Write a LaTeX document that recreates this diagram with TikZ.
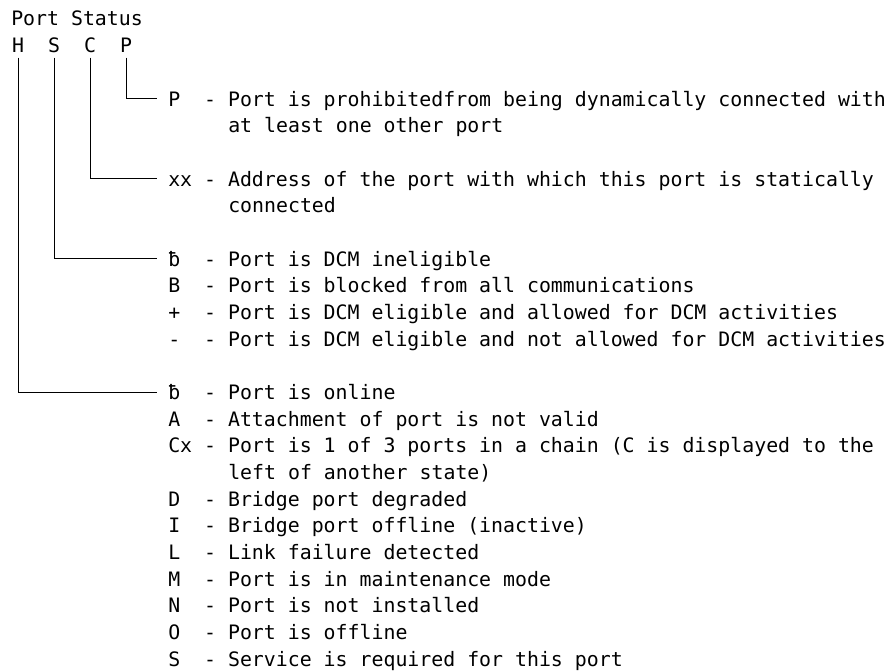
\documentclass[tikz,border=0pt]{standalone}
\usepackage{fontspec}
\setmonofont{DejaVu Sans Mono}
\begin{document}
\begin{tikzpicture}[x=0.75pt,y=-20pt,
  mono/.style={font=\ttfamily\fontsize{14.9pt}{20pt}\selectfont},
  txt/.style={mono,inner sep=0pt,anchor=base west},
  col/.style={mono,inner xsep=0pt,inner ysep=3.5pt,text depth=0pt,anchor=base},
  key/.style={mono,inner ysep=0pt,inner xsep=8.25pt,text height=10.9pt,text depth=0pt,anchor=base west},
  link/.style={line width=0.6pt}]
  \useasboundingbox (0,0) rectangle (892,25.1625);
  \begin{scope}[yshift=-19.5pt]
  % heading and status columns
  \node[txt] (title) at (11,0) {Port~Status};
  \node[col] (H) at (18,1) {H};
  \node[col] (S) at (54,1) {S};
  \node[col] (C) at (90,1) {C};
  \node[col] (P) at (126,1) {P};
  % P column
  \node[key] (keyP) at (157,3) {P~~-~Port is prohibitedfrom being dynamically connected with};
  \node[txt] (p2) at (228,4) {at least one other port};
  % C column
  \node[key] (keyC) at (157,6) {xx~-~Address of the port with which this port is statically};
  \node[txt] (c2) at (228,7) {connected};
  % S column
  \node[key] (keyS) at (157,9) {ƀ~~-~Port is DCM ineligible};
  \node[key] (s2) at (157,10) {B~~-~Port is blocked from all communications};
  \node[key] (s3) at (157,11) {+~~-~Port is DCM eligible and allowed for DCM activities};
  \node[key] (s4) at (157,12) {-~~-~Port is DCM eligible and not allowed for DCM activities};
  % H column
  \node[key] (keyH) at (157,14) {ƀ~~-~Port is online};
  \node[key] (h2) at (157,15) {A~~-~Attachment of port is not valid};
  \node[key] (h3) at (157,16) {Cx~-~Port is 1 of 3 ports in a chain (C is displayed to the};
  \node[txt] (h3b) at (228,17) {left of another state)};
  \node[key] (h4) at (157,18) {D~~-~Bridge port degraded};
  \node[key] (h5) at (157,19) {I~~-~Bridge port offline (inactive)};
  \node[key] (h6) at (157,20) {L~~-~Link failure detected};
  \node[key] (h7) at (157,21) {M~~-~Port is in maintenance mode};
  \node[key] (h8) at (157,22) {N~~-~Port is not installed};
  \node[key] (h9) at (157,23) {O~~-~Port is offline};
  \node[key] (h10) at (157,24) {S~~-~Service is required for this port};
  % connectors
  \draw[link] (P.south) |- (keyP.west);
  \draw[link] (C.south) |- (keyC.west);
  \draw[link] (S.south) |- (keyS.west);
  \draw[link] (H.south) |- (keyH.west);
  \end{scope}
\end{tikzpicture}
\end{document}
